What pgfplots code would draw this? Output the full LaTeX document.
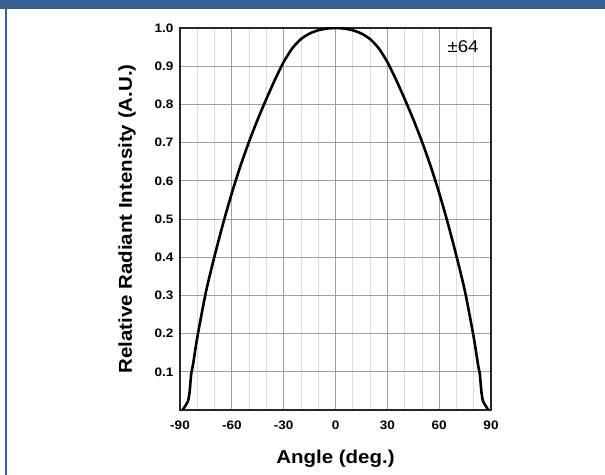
\documentclass[border=0pt]{standalone}
\usepackage{pgfplots}
\pgfplotsset{compat=1.18}
\usepackage{fontspec}
\setmainfont{Liberation Sans}[FakeStretch=1.1]
\definecolor{frameblue}{RGB}{55,96,146}
\definecolor{majgrid}{RGB}{160,160,160}
\definecolor{mingrid}{RGB}{220,220,220}

\begin{document}
\begin{tikzpicture}[x=1bp,y=1bp]
\useasboundingbox (0,0) rectangle (605,475);
\fill[white] (0,0) rectangle (605,475);
\fill[frameblue] (0,466) rectangle (605,475);
\fill[frameblue] (4.7,0) rectangle (7,475);
\begin{axis}[
    at={(180bp,65bp)}, anchor=south west,
    width=311bp, height=382bp, scale only axis,
    xmin=-90, xmax=90,
    ymin=0, ymax=1,
    xtick={-90,-60,-30,0,30,60,90},
    xticklabels={-90,-60,-30,0,30,60,90},
    minor xtick={-80,-70,-50,-40,-20,-10,10,20,40,50,70,80},
    ytick={0.1,0.2,0.3,0.4,0.5,0.6,0.7,0.8,0.9,1.0},
    yticklabel style={/pgf/number format/fixed, /pgf/number format/fixed zerofill,
        /pgf/number format/precision=1, xshift=-3bp},
    /pgf/number format/assume math mode=true,
    xmajorgrids=true, ymajorgrids=true, xminorgrids=true,
    major grid style={majgrid, line width=0.8bp},
    minor grid style={mingrid, line width=0.8bp},
    major tick length=0pt, minor tick length=0pt,
    axis line style={black!85, line width=1.3bp},
    tick label style={font=\fontsize{12.3bp}{14bp}\selectfont\bfseries},
    xticklabel style={yshift=-7bp},
    xlabel={Angle (deg.)},
    ylabel={Relative Radiant Intensity (A.U.)},
    label style={font=\fontsize{18.6bp}{20bp}\selectfont\bfseries},
    xlabel style={at={(axis description cs:0.5,0)}, anchor=center, yshift=-49bp},
    ylabel style={at={(axis description cs:-0.170,0.5)}, anchor=center},
]
\addplot[black, line width=2.6bp, line join=round, smooth, tension=0.4] coordinates {
    (-88.5,0.000) (-85.5,0.022) (-84.5,0.045) (-83.5,0.095) (-82.5,0.118)
    (-80,0.190) (-75,0.309) (-70,0.403) (-65,0.489) (-60,0.568)
    (-55,0.639) (-50,0.703) (-45,0.761) (-40,0.8145) (-35,0.865)
    (-30,0.911) (-25,0.947) (-20,0.971) (-15,0.9855) (-10,0.994)
    (-5,0.9985) (0,1.000) (5,0.9985) (10,0.994) (15,0.9855)
    (20,0.971) (25,0.947) (30,0.911) (35,0.865) (40,0.8145)
    (45,0.761) (50,0.703) (55,0.639) (60,0.568) (65,0.489)
    (70,0.403) (75,0.309) (80,0.190) (82.5,0.118) (83.5,0.095)
    (84.5,0.045) (85.5,0.022) (88.5,0.000)
};
\node[font=\fontsize{17bp}{19bp}\selectfont] at (rel axis cs:0.910,0.950) {±64};
\end{axis}
\end{tikzpicture}
\end{document}
